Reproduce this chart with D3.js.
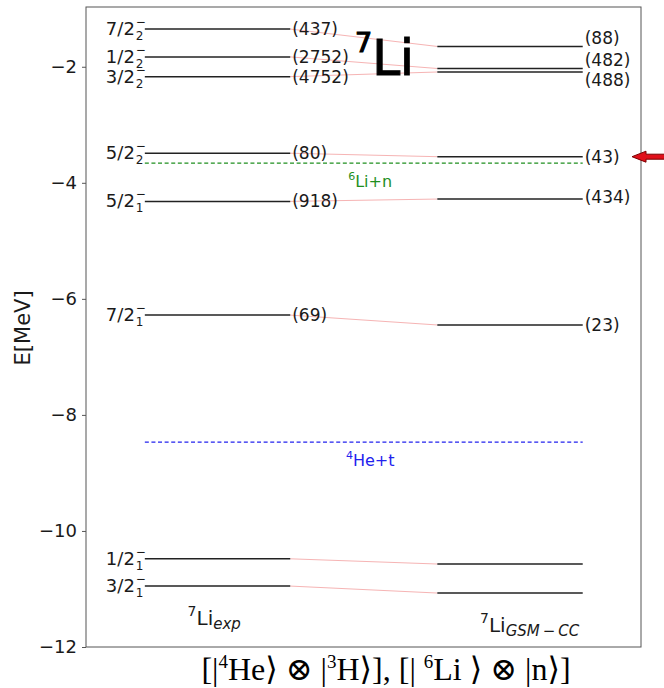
<!doctype html>
<html lang="en">
  <head>
    <meta charset="utf-8">
    <title>7Li spectrum</title>
    <script src="https://d3js.org/d3.v7.min.js"></script>
    <style>
      body { margin: 0; background: #fff; }
      svg text { font-family: "DejaVu Sans", sans-serif; fill: #1a1a1a; }
    </style>
  </head>
  <body>
    <div class="visual"></div>
  </body>
  <script>
    // level data (MeV)
    const expJ = ['7/2', '1/2', '3/2', '5/2', '5/2', '7/2', '1/2', '3/2'];
    const expN = ['2', '2', '2', '2', '1', '1', '1', '1'];
    const expE = [-1.35, -1.83, -2.17, -3.49, -4.32, -6.28, -10.48, -10.95];
    const expW = ['(437)', '(2752)', '(4752)', '(80)', '(918)', '(69)', '', ''];
    const gsmE = [-1.65, -2.03, -2.09, -3.55, -4.28, -6.45, -10.57, -11.07];
    const gsmW = ['(88)', '(482)', '(488)', '(43)', '(434)', '(23)', '', ''];
    const thrName = ['6', '4'];
    const thrText = ['Li+n', 'He+t'];
    const thrE = [-3.66, -8.47];
    const yTicks = [-12, -10, -8, -6, -4, -2];

    const W = 664, H = 688;
    const margin = {top: 7, right: 23, bottom: 41, left: 86};

    const svg = d3.select('.visual')
      .append('svg')
      .attr('width', W)
      .attr('height', H);

    const x = d3.scaleLinear().domain([0, 10]).range([margin.left, W - margin.right]);
    const y = d3.scaleLinear().domain([-12, -0.97]).range([H - margin.bottom, margin.top]);

    const expX = [1.06, 3.68];
    const gsmX = [6.33, 8.95];

    // frame
    svg.append('rect')
      .attr('x', x(0)).attr('y', y(-0.97))
      .attr('width', x(10) - x(0)).attr('height', y(-12) - y(-0.97))
      .attr('fill', 'none').attr('stroke', '#555').attr('stroke-width', 1);

    const yAxis = d3.axisLeft(y)
      .tickValues(yTicks)
      .tickSize(4)
      .tickPadding(5)
      .tickFormat(d => String(d).replace('-', '\u2212'));
    const gy = svg.append('g')
      .attr('transform', 'translate(' + x(0) + ',0)')
      .call(yAxis);
    gy.select('.domain').remove();
    gy.selectAll('.tick line').attr('stroke', '#555');
    gy.selectAll('.tick text').attr('font-size', '18px').attr('font-family', 'DejaVu Sans').attr('fill', '#1a1a1a');

    svg.append('text')
      .attr('transform', 'translate(30,' + y(-6.5) + ') rotate(-90)')
      .attr('text-anchor', 'middle')
      .attr('font-size', '21px')
      .text('E[MeV]');

    // connectors
    svg.selectAll('.conn')
      .data(expE)
      .enter().append('line')
      .attr('x1', x(expX[1])).attr('x2', x(gsmX[0]))
      .attr('y1', d => y(d)).attr('y2', (d, i) => y(gsmE[i]))
      .attr('stroke', '#f6b4b4').attr('stroke-width', 1);

    // thresholds
    const thrColor = ['#1f8f1f', '#2222ee'];
    thrE.forEach((e, i) => {
      svg.append('line')
        .attr('x1', x(expX[0])).attr('x2', x(gsmX[1]))
        .attr('y1', y(e)).attr('y2', y(e))
        .attr('stroke', thrColor[i]).attr('stroke-width', 1.2)
        .attr('stroke-dasharray', '4,2.6');
      const t = svg.append('text')
        .attr('x', x(5.12)).attr('y', y(e) + 24)
        .attr('text-anchor', 'middle')
        .attr('font-size', '16px')
        .style('fill', thrColor[i]);
      t.append('tspan').attr('font-size', '11px').attr('dy', -7).text(thrName[i]);
      t.append('tspan').attr('dy', 7).text(thrText[i]);
    });

    // experimental levels
    svg.selectAll('.exp')
      .data(expE)
      .enter().append('line')
      .attr('x1', x(expX[0])).attr('x2', x(expX[1]))
      .attr('y1', d => y(d)).attr('y2', d => y(d))
      .attr('stroke', '#222').attr('stroke-width', 1.5);

    expE.forEach((e, i) => {
      const x0 = x(expX[0]) - 9;
      svg.append('text')
        .attr('x', x0 - 1).attr('y', y(e) + 6)
        .attr('text-anchor', 'end')
        .attr('font-size', '18px')
        .text(expJ[i]);
      svg.append('text')
        .attr('x', x0).attr('y', y(e) + 11)
        .attr('font-size', '12px')
        .text(expN[i]);
      svg.append('text')
        .attr('x', x0).attr('y', y(e) - 3)
        .attr('font-size', '12px')
        .text('\u2212');
      if (expW[i]) {
        svg.append('text')
          .attr('x', x(expX[1]) + 2).attr('y', y(e) + 6)
          .attr('font-size', '17px')
          .text(expW[i]);
      }
    });

    // GSM-CC levels
    svg.selectAll('.gsm')
      .data(gsmE)
      .enter().append('line')
      .attr('x1', x(gsmX[0])).attr('x2', x(gsmX[1]))
      .attr('y1', d => y(d)).attr('y2', d => y(d))
      .attr('stroke', '#222').attr('stroke-width', 1.5);

    const gsmShift = [-2, -3, 14, 6, 4, 6, 0, 0];
    gsmE.forEach((e, i) => {
      if (!gsmW[i]) return;
      svg.append('text')
        .attr('x', x(gsmX[1]) + 2).attr('y', y(e) + gsmShift[i])
        .attr('font-size', '17px')
        .text(gsmW[i]);
    });

    // red arrow marking the level near threshold
    const ay = y(gsmE[3]);
    const ax = 632;
    svg.append('path')
      .attr('d', 'M' + ax + ',' + ay + ' L' + (ax + 14) + ',' + (ay - 5.5) + ' L' + (ax + 14) + ',' + (ay - 2.5) +
        ' L' + (W + 5) + ',' + (ay - 2.5) + ' L' + (W + 5) + ',' + (ay + 2.5) + ' L' + (ax + 14) + ',' + (ay + 2.5) +
        ' L' + (ax + 14) + ',' + (ay + 5.5) + ' Z')
      .attr('fill', '#e0101a').attr('stroke', '#7a0000').attr('stroke-width', 1);

    // big title
    const title = svg.append('text')
      .attr('x', 355).attr('y', 75)
      .attr('font-size', '50px')
      .style('fill', '#000')
      .style('stroke', '#000').style('stroke-width', 1.2);
    title.append('tspan').attr('font-size', '27px').attr('dy', -23).text('7');
    title.append('tspan').attr('dy', 23).text('Li');

    // column labels
    const lab1 = svg.append('text')
      .attr('x', x(1.83)).attr('y', y(-11.62))
      .attr('font-size', '20px');
    lab1.append('tspan').attr('font-size', '14px').attr('dy', -9).text('7');
    lab1.append('tspan').attr('dy', 9).text('Li');
    lab1.append('tspan').attr('font-size', '15px').attr('font-style', 'italic').attr('dy', 4).text('exp');

    const lab2 = svg.append('text')
      .attr('x', x(7.1)).attr('y', y(-11.74))
      .attr('font-size', '20px');
    lab2.append('tspan').attr('font-size', '14px').attr('dy', -9).text('7');
    lab2.append('tspan').attr('dy', 9).text('Li');
    lab2.append('tspan').attr('font-size', '15px').attr('font-style', 'italic').attr('dy', 4).text('GSM\u2009\u2212\u2009CC');

    // x caption in serif
    const cap = svg.append('text')
      .attr('x', 386).attr('y', 680)
      .attr('text-anchor', 'middle')
      .attr('font-size', '32px')
      .style('font-family', '"Liberation Serif", "DejaVu Serif", serif')
      .style('fill', '#000');
    cap.append('tspan').text('[|');
    cap.append('tspan').attr('font-size', '19px').attr('dy', -12).text('4');
    cap.append('tspan').attr('dy', 12).text('He\u27E9 \u2297 |');
    cap.append('tspan').attr('font-size', '19px').attr('dy', -12).text('3');
    cap.append('tspan').attr('dy', 12).text('H\u27E9], [| ');
    cap.append('tspan').attr('font-size', '19px').attr('dy', -12).text('6');
    cap.append('tspan').attr('dy', 12).text('Li \u27E9 \u2297 |n\u27E9]');
  </script>
</html>
